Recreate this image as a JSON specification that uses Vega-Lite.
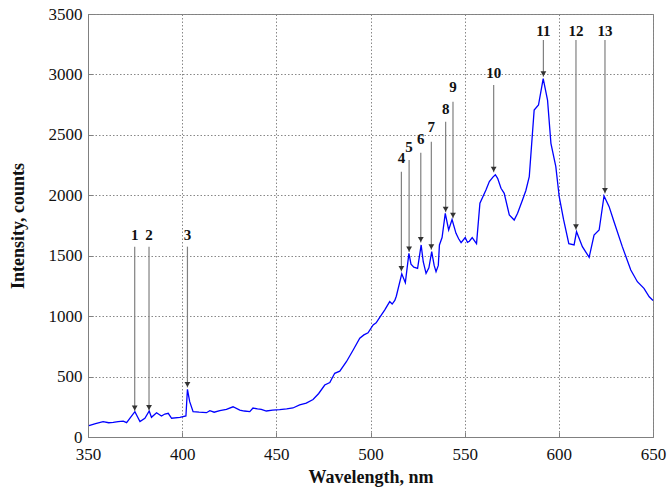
{
  "$schema": "https://vega.github.io/schema/vega-lite/v6.json",
  "width": 565,
  "height": 423,
  "autosize": "none",
  "padding": {"left": 88, "top": 14, "right": 16, "bottom": 56},
  "background": "white",
  "config": {
    "view": {"stroke": "#808080", "strokeWidth": 1},
    "axis": {
      "grid": true,
      "gridColor": "#888888",
      "gridDash": [1.5, 2],
      "gridWidth": 1,
      "domainColor": "#808080",
      "tickColor": "#808080",
      "tickSize": -5,
      "labelFlush": false,
      "labelFont": "Liberation Serif",
      "labelFontSize": 17,
      "labelColor": "#111111",
      "titleFont": "Liberation Serif",
      "titleFontSize": 18,
      "titleFontWeight": "bold",
      "titleColor": "#111111"
    }
  },
  "datasets": {
    "spectrum": [
      {"wl": 350.5, "I": 95}, {"wl": 354, "I": 110}, {"wl": 358, "I": 127}, {"wl": 361, "I": 118},
      {"wl": 363.4, "I": 121}, {"wl": 366, "I": 128}, {"wl": 368.7, "I": 132}, {"wl": 370.5, "I": 119},
      {"wl": 372.5, "I": 160}, {"wl": 374.9, "I": 210}, {"wl": 376.2, "I": 170}, {"wl": 377.6, "I": 127},
      {"wl": 380.2, "I": 155}, {"wl": 382.5, "I": 215}, {"wl": 383.7, "I": 163}, {"wl": 386.4, "I": 201},
      {"wl": 389, "I": 174}, {"wl": 390.8, "I": 190}, {"wl": 392.6, "I": 196}, {"wl": 394.4, "I": 155},
      {"wl": 398.8, "I": 163}, {"wl": 402, "I": 174}, {"wl": 402.8, "I": 395}, {"wl": 404, "I": 292},
      {"wl": 405.8, "I": 210}, {"wl": 409, "I": 205}, {"wl": 412.9, "I": 201}, {"wl": 414.7, "I": 218},
      {"wl": 417, "I": 205}, {"wl": 420, "I": 218}, {"wl": 423.5, "I": 228}, {"wl": 427, "I": 250},
      {"wl": 430.6, "I": 223}, {"wl": 433, "I": 215}, {"wl": 435.9, "I": 210}, {"wl": 437.6, "I": 240},
      {"wl": 440, "I": 232}, {"wl": 442, "I": 229}, {"wl": 444.7, "I": 215}, {"wl": 448, "I": 222},
      {"wl": 451.8, "I": 226}, {"wl": 455.5, "I": 232}, {"wl": 458.8, "I": 240}, {"wl": 462.4, "I": 265},
      {"wl": 465.9, "I": 280}, {"wl": 469.5, "I": 310}, {"wl": 472.5, "I": 360}, {"wl": 475.7, "I": 430},
      {"wl": 478.4, "I": 450}, {"wl": 481, "I": 527}, {"wl": 483.7, "I": 545}, {"wl": 487.2, "I": 623},
      {"wl": 490.8, "I": 720}, {"wl": 494.3, "I": 817}, {"wl": 496.5, "I": 845}, {"wl": 498.7, "I": 862},
      {"wl": 501.4, "I": 927}, {"wl": 503, "I": 945}, {"wl": 504.9, "I": 990}, {"wl": 507.5, "I": 1050},
      {"wl": 510.2, "I": 1120}, {"wl": 511.5, "I": 1100}, {"wl": 512.9, "I": 1130}, {"wl": 513.7, "I": 1165},
      {"wl": 516.6, "I": 1350}, {"wl": 518.5, "I": 1277}, {"wl": 520.4, "I": 1520}, {"wl": 521.5, "I": 1430},
      {"wl": 523, "I": 1405}, {"wl": 525, "I": 1395}, {"wl": 526.9, "I": 1589}, {"wl": 528, "I": 1450},
      {"wl": 529.5, "I": 1354}, {"wl": 531, "I": 1400}, {"wl": 532.5, "I": 1533}, {"wl": 533.8, "I": 1420},
      {"wl": 534.8, "I": 1368}, {"wl": 536, "I": 1420}, {"wl": 536.6, "I": 1589}, {"wl": 538, "I": 1650},
      {"wl": 539.7, "I": 1851}, {"wl": 541.5, "I": 1713}, {"wl": 543.3, "I": 1800}, {"wl": 545.4, "I": 1685},
      {"wl": 546.8, "I": 1640}, {"wl": 548.1, "I": 1608}, {"wl": 550.3, "I": 1650}, {"wl": 551.5, "I": 1610},
      {"wl": 552.5, "I": 1620}, {"wl": 554, "I": 1650}, {"wl": 556.3, "I": 1600}, {"wl": 558.1, "I": 1934},
      {"wl": 561.3, "I": 2044}, {"wl": 563.1, "I": 2113}, {"wl": 565, "I": 2150}, {"wl": 566.3, "I": 2170},
      {"wl": 567.5, "I": 2140}, {"wl": 569.3, "I": 2058}, {"wl": 571, "I": 2016}, {"wl": 573.7, "I": 1837},
      {"wl": 576.3, "I": 1795}, {"wl": 578.1, "I": 1851}, {"wl": 580.7, "I": 1961}, {"wl": 582.5, "I": 2040},
      {"wl": 584.3, "I": 2154}, {"wl": 586.9, "I": 2706}, {"wl": 589.2, "I": 2747}, {"wl": 591.7, "I": 2965},
      {"wl": 594, "I": 2788}, {"wl": 595.8, "I": 2430}, {"wl": 598.4, "I": 2237}, {"wl": 600.2, "I": 1988},
      {"wl": 602.5, "I": 1800}, {"wl": 605.3, "I": 1600}, {"wl": 608.1, "I": 1589}, {"wl": 609.4, "I": 1699},
      {"wl": 612.5, "I": 1575}, {"wl": 616.1, "I": 1487}, {"wl": 618.7, "I": 1671}, {"wl": 621.4, "I": 1713},
      {"wl": 624, "I": 1995}, {"wl": 626.7, "I": 1906}, {"wl": 629.3, "I": 1781}, {"wl": 633.7, "I": 1575},
      {"wl": 638.2, "I": 1382}, {"wl": 641.7, "I": 1285}, {"wl": 645.2, "I": 1230}, {"wl": 648, "I": 1160},
      {"wl": 650, "I": 1130}
    ],
    "arrows": [
      {"n": "1", "x": 374.8, "label": 1671, "top": 1575, "tip": 215},
      {"n": "2", "x": 382.4, "label": 1671, "top": 1575, "tip": 220},
      {"n": "3", "x": 402.8, "label": 1671, "top": 1575, "tip": 410},
      {"n": "4", "x": 516.4, "label": 2309, "top": 2195, "tip": 1370},
      {"n": "5", "x": 520.5, "label": 2402, "top": 2292, "tip": 1530},
      {"n": "6", "x": 526.7, "label": 2463, "top": 2352, "tip": 1610},
      {"n": "7", "x": 532.3, "label": 2567, "top": 2443, "tip": 1550},
      {"n": "8", "x": 539.9, "label": 2711, "top": 2609, "tip": 1860},
      {"n": "9", "x": 543.8, "label": 2898, "top": 2774, "tip": 1810},
      {"n": "10", "x": 565.4, "label": 3009, "top": 2913, "tip": 2190},
      {"n": "11", "x": 591.8, "label": 3359, "top": 3285, "tip": 2980},
      {"n": "12", "x": 609.1, "label": 3359, "top": 3285, "tip": 1715},
      {"n": "13", "x": 624.5, "label": 3359, "top": 3285, "tip": 2015}
    ]
  },
  "layer": [
    {
      "data": {"name": "spectrum"},
      "mark": {"type": "line", "color": "#0000ff", "strokeWidth": 1.3},
      "encoding": {
        "x": {"field": "wl", "type": "quantitative", "scale": {"domain": [350, 650], "nice": false},
              "axis": {"values": [350, 400, 450, 500, 550, 600, 650], "format": "d", "title": "Wavelength, nm", "labelPadding": 14, "titlePadding": 6}},
        "y": {"field": "I", "type": "quantitative", "scale": {"domain": [0, 3500], "nice": false},
              "axis": {"values": [0, 500, 1000, 1500, 2000, 2500, 3000, 3500], "format": "d", "title": "Intensity, counts", "labelPadding": 11, "titlePadding": 21}}
      }
    },
    {
      "data": {"name": "arrows"},
      "mark": {"type": "rule", "color": "#808080", "strokeWidth": 1.2},
      "encoding": {
        "x": {"field": "x", "type": "quantitative"},
        "y": {"field": "top", "type": "quantitative"},
        "y2": {"field": "tip"}
      }
    },
    {
      "data": {"name": "arrows"},
      "mark": {"type": "point", "shape": "triangle-down", "filled": true, "color": "#333333", "size": 34, "yOffset": -3, "opacity": 1},
      "encoding": {
        "x": {"field": "x", "type": "quantitative"},
        "y": {"field": "tip", "type": "quantitative"}
      }
    },
    {
      "data": {"name": "arrows"},
      "mark": {"type": "text", "font": "Liberation Serif", "fontSize": 15, "fontWeight": "bold", "color": "#111111", "baseline": "middle", "align": "center"},
      "encoding": {
        "x": {"field": "x", "type": "quantitative"},
        "y": {"field": "label", "type": "quantitative"},
        "text": {"field": "n"}
      }
    }
  ]
}
